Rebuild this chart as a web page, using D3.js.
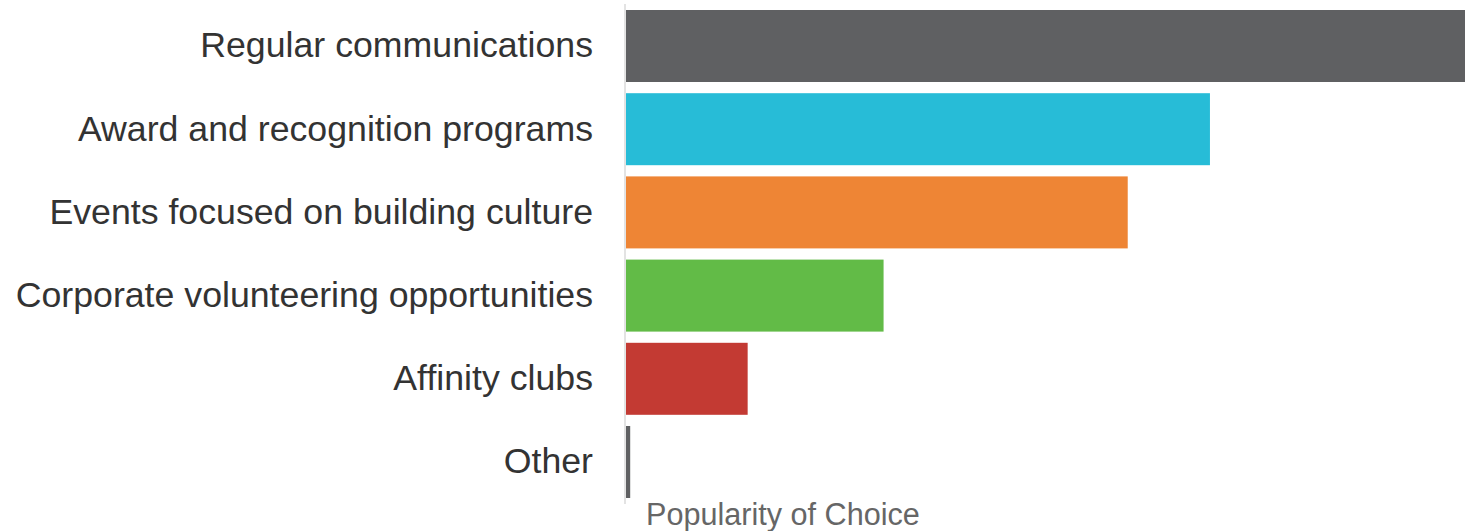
<!DOCTYPE html>
<html><head><meta charset="utf-8">
<script src="https://cdn.jsdelivr.net/npm/d3@7"></script>
<style>html,body{margin:0;padding:0;background:#fff;}svg{display:block;}</style>
</head><body>
<svg id="c" width="1465" height="531"></svg>
<script>
const categories = ["Regular communications","Award and recognition programs","Events focused on building culture","Corporate volunteering opportunities","Affinity clubs","Other"];
const values = [100, 69.6, 59.8, 30.7, 14.5, 0.5];
const colors = ["#5f6062","#27bcd7","#ee8535","#62bb47","#c33a33","#5f6062"];
const axisTitle = "Popularity of Choice";

const svg = d3.select("#c");
const x = d3.scaleLinear().domain([0, 100]).range([626, 1465]);
const y = d3.scaleBand().domain(categories).range([10, 498]).paddingInner(0.1346).paddingOuter(0);

svg.append("line").attr("x1",625).attr("x2",625).attr("y1",4).attr("y2",504)
  .attr("stroke","#e3e3e3").attr("stroke-width",2);

svg.selectAll("rect.bar").data(categories).join("rect").attr("class","bar")
  .attr("x", x(0)).attr("y", d=>y(d))
  .attr("width", (d,i)=>x(values[i])-x(0)).attr("height", y.bandwidth())
  .attr("fill", (d,i)=>colors[i]);

const yAxis = d3.axisLeft(y).tickSize(0).tickPadding(0);
const g = svg.append("g").attr("transform","translate(593,0)").call(yAxis);
g.select(".domain").remove();
g.selectAll("text").attr("font-family","'Liberation Sans', Arial, sans-serif")
  .attr("font-size",35.7).attr("fill","#333").attr("dy","0.32em");

svg.append("text").attr("x",646).attr("y",525).text(axisTitle)
  .attr("font-family","'Liberation Sans', Arial, sans-serif").attr("font-size",30.6).attr("fill","#666");
</script>
</body></html>
